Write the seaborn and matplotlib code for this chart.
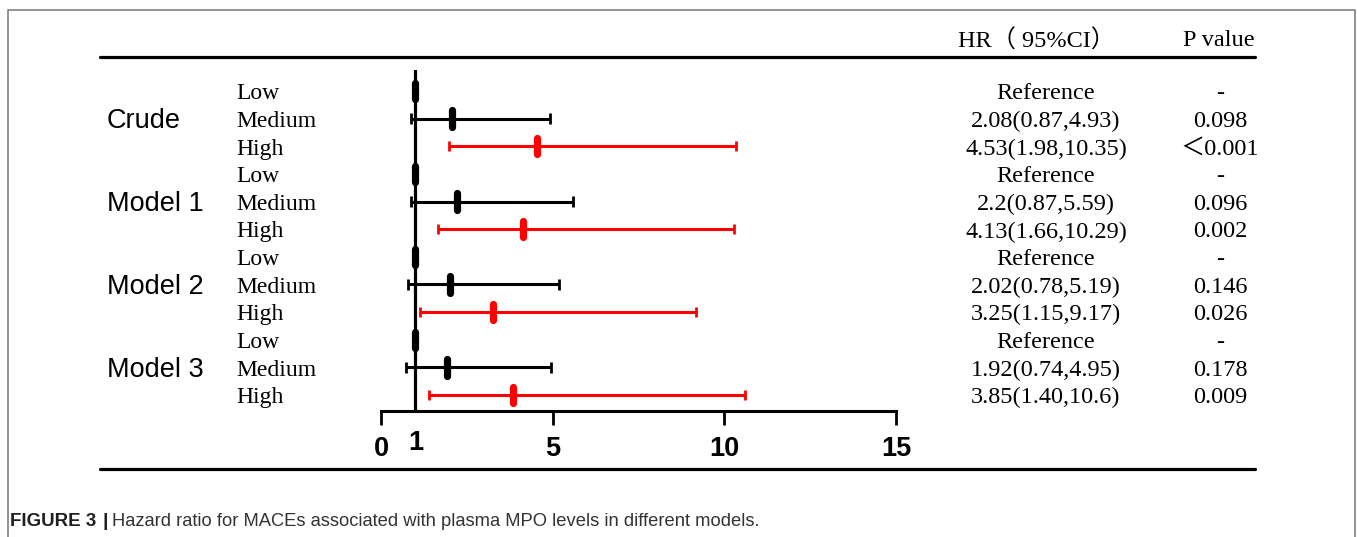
import numpy as np
import pandas as pd
import matplotlib
matplotlib.use("Agg")
import matplotlib.pyplot as plt
from matplotlib.lines import Line2D
from matplotlib.transforms import blended_transform_factory
import seaborn as sns

# ---------------- data ----------------
groups = ["Crude", "Model 1", "Model 2", "Model 3"]
levels = ["Low", "Medium", "High"]
hr = [1.00, 2.08, 4.53, 1.00, 2.20, 4.13, 1.00, 2.02, 3.25, 1.00, 1.92, 3.85]
ci_low = [np.nan, 0.87, 1.98, np.nan, 0.87, 1.66, np.nan, 0.78, 1.15, np.nan, 0.74, 1.40]
ci_high = [np.nan, 4.93, 10.35, np.nan, 5.59, 10.29, np.nan, 5.19, 9.17, np.nan, 4.95, 10.6]
hr_text = ["Reference", "2.08(0.87,4.93)", "4.53(1.98,10.35)",
           "Reference", "2.2(0.87,5.59)", "4.13(1.66,10.29)",
           "Reference", "2.02(0.78,5.19)", "3.25(1.15,9.17)",
           "Reference", "1.92(0.74,4.95)", "3.85(1.40,10.6)"]
p_text = ["-", "0.098", "＜0.001", "-", "0.096", "0.002",
          "-", "0.146", "0.026", "-", "0.178", "0.009"]
x_ticks = [0, 5, 10, 15]

W, H = 1357, 537
SERIF = ["Liberation Serif", "Noto Sans CJK SC", "DejaVu Serif"]
SANS = ["Liberation Sans", "DejaVu Sans"]
NARROW = ["Liberation Sans Narrow", "Liberation Sans", "DejaVu Sans"]

sns.set_theme(style="white")
plt.rcParams["font.family"] = SANS
plt.rcParams["text.color"] = "black"
plt.rcParams["xtick.color"] = "black"
plt.rcParams["xtick.labelcolor"] = "black"

df = pd.DataFrame({
    "row": np.arange(len(hr)),
    "group": np.repeat(groups, len(levels)),
    "level": levels * len(groups),
    "hr": hr, "lo": ci_low, "hi": ci_high,
})
palette = {"Low": "black", "Medium": "black", "High": "#ff0000"}
df["color"] = df["level"].map(palette)

fig = plt.figure(figsize=(W / 100, H / 100), dpi=100)

def fx(px):
    return px / W

def fy(py):
    return 1 - py / H

ax = fig.add_axes([fx(381), fy(411), fx(896) - fx(381), fy(70) - fy(411)])
row_px0, row_step = 91, 27.64
ax.set_xlim(0, 15)
ax.set_ylim((411 - row_px0) / row_step, (70 - row_px0) / row_step)

# reference line at HR = 1
ax.axvline(1, color="black", lw=2.3, zorder=1)

# confidence intervals
ci = df.dropna(subset=["lo"])
ax.hlines(ci["row"], ci["lo"], ci["hi"], colors=ci["color"], lw=2.2, zorder=2)
caps = pd.concat([ci.assign(x=ci["lo"]), ci.assign(x=ci["hi"])])
sns.scatterplot(data=caps, x="x", y="row", hue="level", palette=palette,
                marker="|", s=55, linewidth=2.0, legend=False, ax=ax, zorder=3)
# point estimates
sns.scatterplot(data=df, x="hr", y="row", hue="level", palette=palette,
                marker="|", s=140, linewidth=5.2, legend=False, ax=ax, zorder=4)
for coll in ax.collections[-1:]:
    coll.set_capstyle("round")

for side in ["left", "top", "right"]:
    ax.spines[side].set_visible(False)
ax.spines["bottom"].set_linewidth(2.2)
ax.spines["bottom"].set_color("black")
ax.set_xticks(x_ticks)
ax.set_xticklabels([str(t) for t in x_ticks])
ax.tick_params(axis="x", direction="out", length=10, width=2.0, color="black",
               labelcolor="black", pad=8, bottom=True)
for lab in ax.get_xticklabels():
    lab.set_fontfamily(NARROW)
    lab.set_fontweight("bold")
    lab.set_fontsize(19.5)
ax.set_yticks([])
ax.set_xlabel("")
ax.set_ylabel("")
ax.patch.set_alpha(0)

# "1" label under the reference line
fig.text(fx(416), fy(443), "1", ha="center", va="center", fontsize=19.5,
         fontweight="bold", family=NARROW)

trans = blended_transform_factory(fig.transFigure, ax.transData)
dy = 0.1  # small baseline shift so text centres sit on the rows
for i, row in df.iterrows():
    ax.text(fx(236), row["row"] + dy, row["level"], transform=trans, ha="left",
            va="center", fontsize=17, family=SERIF, clip_on=False)
    ax.text(fx(1046), row["row"] + dy, hr_text[i], transform=trans, ha="center",
            va="center", fontsize=17.5, family=SERIF, clip_on=False)
    ax.text(fx(1220), row["row"] + dy, p_text[i], transform=trans, ha="center",
            va="center", fontsize=17.5, family=SERIF, clip_on=False)
for g_i, g in enumerate(groups):
    ax.text(fx(107), g_i * len(levels) + 1 + dy, g, transform=trans, ha="left",
            va="center", fontsize=19.5, family=SANS, clip_on=False)

# headers
fig.text(fx(1037), fy(41), "HR（ 95%CI）", ha="center", va="center",
         fontsize=17.5, family=SERIF)
fig.text(fx(1219), fy(41), "P value", ha="center", va="center",
         fontsize=17.5, family=SERIF)

# table rules
for py in (57, 469):
    fig.add_artist(Line2D([fx(100), fx(1255)], [fy(py), fy(py)],
                          color="black", lw=2.3, transform=fig.transFigure))

# outer frame
fig.add_artist(Line2D([fx(8), fx(8), fx(1355), fx(1355)],
                      [fy(537), fy(10), fy(10), fy(537)],
                      color="#808080", lw=1.2, transform=fig.transFigure))

# caption
fig.text(fx(10), fy(522), "FIGURE 3", ha="left", va="center",
         fontsize=13.5, fontweight="bold", family=SANS, color="#231f20")
fig.text(fx(105), fy(522), "|", ha="center", va="center",
         fontsize=14, fontweight="bold", family=SANS, color="#231f20")
fig.text(fx(112), fy(522), "Hazard ratio for MACEs associated with plasma MPO levels in different models.",
         ha="left", va="center", fontsize=13.2, family=NARROW, color="#333333")

fig.savefig("out.png", dpi=100)
